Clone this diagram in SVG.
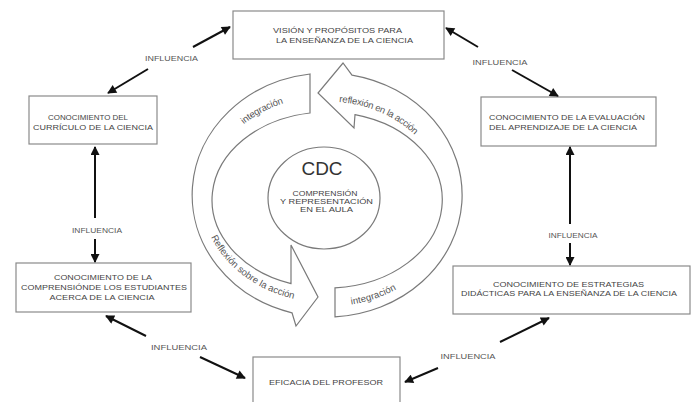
<svg xmlns="http://www.w3.org/2000/svg" xmlns:xlink="http://www.w3.org/1999/xlink" width="691" height="402" viewBox="0 0 691 402">
<style>
.box{fill:#fff;stroke:#8a8a8a;stroke-width:1.2}
.bt{font-family:"Liberation Sans",Arial,sans-serif;font-size:7px;fill:#444}
.ring{fill:#fff;stroke:#7a7a7a;stroke-width:1.2}
.rt{font-family:"Liberation Sans",Arial,sans-serif;font-size:9.5px;fill:#555}
.con{stroke:#111;stroke-width:2;fill:none;marker-end:url(#ah)}
.inf{font-family:"Liberation Sans",Arial,sans-serif;font-size:7px;fill:#555}
</style>
<defs>
<marker id="ah" viewBox="0 0 10 10" refX="9" refY="5" markerWidth="10" markerHeight="9" markerUnits="userSpaceOnUse" orient="auto"><path d="M0,0 L10,5 L0,10 z" fill="#111"/></marker>
<path id="up" d="M202,197.5 A125,105 0 0 1 452,197.5"/>
<path id="lo" d="M202,197.5 A125,105 0 0 0 452,197.5"/>
</defs>
<rect width="691" height="402" fill="#fff"/>

<g id="ciclo">
<path class="ring" d="M310,74 A135,122 0 0 0 292,312.8 L296,326 L318,297 L291,245 L291,283.6 A115,88 0 0 1 310,113 Z"/>
<path class="ring" d="M335,316.8 A135,122 0 0 0 352,75.1 L343,63 L318,93 L354,128 L355,114.6 A115,88 0 0 1 335,287.8 Z"/>
<text class="rt" dominant-baseline="central"><textPath xlink:href="#up" href="#up" startOffset="31%" text-anchor="middle">integración</textPath></text>
<text class="rt" dominant-baseline="central" dy="5"><textPath xlink:href="#up" href="#up" startOffset="66%" text-anchor="middle">reflexión en la acción</textPath></text>
<text class="rt" dominant-baseline="central" dy="-4"><textPath xlink:href="#lo" href="#lo" startOffset="26%" text-anchor="middle">Reflexión sobre la acción</textPath></text>
<text class="rt" dominant-baseline="central"><textPath xlink:href="#lo" href="#lo" startOffset="63%" text-anchor="middle">integración</textPath></text>
</g>

<g id="cdc">
<ellipse cx="324" cy="198" rx="56" ry="51" class="ring"/>
<text x="322" y="175" font-family="Liberation Sans,Arial,sans-serif" font-size="18" fill="#333" text-anchor="middle" textLength="41" lengthAdjust="spacingAndGlyphs">CDC</text>
<text class="bt" x="325" y="195.5" text-anchor="middle" textLength="65" lengthAdjust="spacingAndGlyphs">COMPRENSIÓN</text>
<text class="bt" x="326.5" y="203.5" text-anchor="middle" textLength="93" lengthAdjust="spacingAndGlyphs">Y REPRESENTACIÓN</text>
<text class="bt" x="326.5" y="211.5" text-anchor="middle" textLength="53" lengthAdjust="spacingAndGlyphs">EN EL AULA</text>
</g>

<g id="vision">
<rect class="box" x="233" y="11" width="211" height="48"/>
<text class="bt" x="337.5" y="33" text-anchor="middle" textLength="129" lengthAdjust="spacingAndGlyphs">VISIÓN Y PROPÓSITOS PARA</text>
<text class="bt" x="344.5" y="43" text-anchor="middle" textLength="137" lengthAdjust="spacingAndGlyphs">LA ENSEÑANZA DE LA CIENCIA</text>
</g>

<g id="curriculo">
<rect class="box" x="29" y="96" width="128" height="48"/>
<text class="bt" x="88" y="119.5" text-anchor="middle" textLength="80" lengthAdjust="spacingAndGlyphs">CONOCIMIENTO DEL</text>
<text class="bt" x="93" y="130" text-anchor="middle" textLength="120" lengthAdjust="spacingAndGlyphs">CURRÍCULO DE LA CIENCIA</text>
</g>

<g id="evaluacion">
<rect class="box" x="481" y="97" width="175" height="49"/>
<text class="bt" x="489" y="119.5" textLength="156" lengthAdjust="spacingAndGlyphs">CONOCIMIENTO DE LA EVALUACIÓN</text>
<text class="bt" x="489" y="130" textLength="148" lengthAdjust="spacingAndGlyphs">DEL APRENDIZAJE DE LA CIENCIA</text>
</g>

<g id="comprension">
<rect class="box" x="16" y="263" width="175" height="49"/>
<text class="bt" x="103" y="279.5" text-anchor="middle" textLength="98" lengthAdjust="spacingAndGlyphs">CONOCIMIENTO DE LA</text>
<text class="bt" x="104" y="289.5" text-anchor="middle" textLength="166" lengthAdjust="spacingAndGlyphs">COMPRENSIÓNDE LOS ESTUDIANTES</text>
<text class="bt" x="102" y="299.5" text-anchor="middle" textLength="105" lengthAdjust="spacingAndGlyphs">ACERCA DE LA CIENCIA</text>
</g>

<g id="estrategias">
<rect class="box" x="453" y="266" width="237" height="48"/>
<text class="bt" x="568.5" y="286.5" text-anchor="middle" textLength="151" lengthAdjust="spacingAndGlyphs">CONOCIMIENTO DE ESTRATEGIAS</text>
<text class="bt" x="569" y="296" text-anchor="middle" textLength="216" lengthAdjust="spacingAndGlyphs">DIDÁCTICAS PARA LA ENSEÑANZA DE LA CIENCIA</text>
</g>

<g id="eficacia">
<rect class="box" x="253" y="357" width="147" height="50"/>
<text class="bt" x="326" y="384.5" text-anchor="middle" textLength="114" lengthAdjust="spacingAndGlyphs">EFICACIA DEL PROFESOR</text>
</g>

<g id="conectores">
<line class="con" x1="148" y1="69" x2="108" y2="93"/>
<line class="con" x1="193" y1="47" x2="230" y2="27"/>
<line class="con" x1="478" y1="47" x2="446" y2="28"/>
<line class="con" x1="512" y1="70" x2="558" y2="96"/>
<line class="con" x1="95" y1="218" x2="95" y2="147"/>
<line class="con" x1="95" y1="239" x2="95" y2="262"/>
<line class="con" x1="570" y1="224" x2="570" y2="147"/>
<line class="con" x1="570" y1="243" x2="570" y2="265"/>
<line class="con" x1="146" y1="336" x2="106" y2="316"/>
<line class="con" x1="200" y1="357" x2="245" y2="378"/>
<line class="con" x1="438" y1="368" x2="405" y2="382"/>
<line class="con" x1="500" y1="342" x2="549" y2="318"/>
<text class="inf" x="171.5" y="60.5" text-anchor="middle" textLength="53" lengthAdjust="spacingAndGlyphs">INFLUENCIA</text>
<text class="inf" x="500" y="64.5" text-anchor="middle" textLength="55" lengthAdjust="spacingAndGlyphs">INFLUENCIA</text>
<text class="inf" x="97" y="232.5" text-anchor="middle" textLength="50" lengthAdjust="spacingAndGlyphs">INFLUENCIA</text>
<text class="inf" x="573" y="237.5" text-anchor="middle" textLength="49" lengthAdjust="spacingAndGlyphs">INFLUENCIA</text>
<text class="inf" x="179" y="349.5" text-anchor="middle" textLength="56" lengthAdjust="spacingAndGlyphs">INFLUENCIA</text>
<text class="inf" x="468" y="358.5" text-anchor="middle" textLength="55" lengthAdjust="spacingAndGlyphs">INFLUENCIA</text>
</g>
</svg>
